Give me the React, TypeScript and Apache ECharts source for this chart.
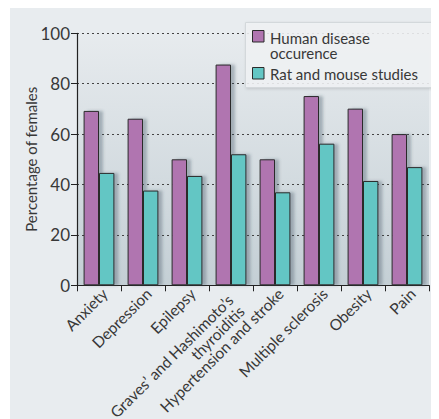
import React, { useEffect, useRef } from "react";
import * as echarts from "echarts";

const categories = [
  "Anxiety",
  "Depression",
  "Epilepsy",
  "Graves’ and Hashimoto’s\nthyroiditis",
  "Hypertension and stroke",
  "Multiple sclerosis",
  "Obesity",
  "Pain",
];
const humanName = "Human disease\noccurence";
const rodentName = "Rat and mouse studies";
const humanValues = [69.2, 66.1, 50, 87.6, 50, 75.1, 70.1, 60];
const rodentValues = [44.6, 37.6, 43.4, 52, 36.9, 56.2, 41.4, 46.9];
const yTicks = [0, 20, 40, 60, 80, 100];

const PURPLE = "#b075b0";
const TEAL = "#63c6c4";
const FONT = "Lato, 'Open Sans', sans-serif";
const TEXT = "#383838";

export default function App() {
  const ref = useRef<HTMLDivElement>(null);
  useEffect(() => {
    if (!ref.current) return;
    const chart = echarts.init(ref.current, null, { renderer: "svg" });
    const barStyle = (color: string) => ({
      color,
      borderColor: "#2b2b2b",
      borderWidth: 1,
      shadowColor: "rgba(60,80,95,0.35)",
      shadowBlur: 3,
      shadowOffsetX: 4,
      shadowOffsetY: 0,
    });
    const humanLines = humanName.split("\n");
    const legendTexts = humanLines.map((t, i) => ({
      type: "text",
      z: 21,
      x: 24.5,
      y: 15 + i * 15.5,
      style: {
        text: t,
        font: `15px ${FONT}`,
        fill: TEXT,
        verticalAlign: "middle",
      },
    }));
    chart.setOption({
      animation: false,
      textStyle: { fontFamily: FONT },
      graphic: [
        {
          type: "rect",
          z: -10,
          silent: true,
          shape: { x: 2, y: 0, width: 429, height: 411 },
          style: { fill: "#e8ecef" },
        },
        {
          type: "group",
          left: 237,
          top: 14,
          z: 20,
          children: [
            {
              type: "rect",
              z: 20,
              shape: { x: 0, y: 0, width: 190, height: 65 },
              style: {
                fill: "rgba(240,243,245,0.88)",
                stroke: "#d3d8db",
                lineWidth: 1,
                shadowColor: "rgba(0,0,0,0.15)",
                shadowBlur: 3,
                shadowOffsetX: 1,
                shadowOffsetY: 1,
              },
            },
            {
              type: "rect",
              z: 21,
              shape: { x: 7, y: 8, width: 11.5, height: 11.5 },
              style: { fill: PURPLE, stroke: "#2b2b2b", lineWidth: 1 },
            },
            ...legendTexts,
            {
              type: "rect",
              z: 21,
              shape: { x: 7, y: 45, width: 11.5, height: 11.5 },
              style: { fill: TEAL, stroke: "#2b2b2b", lineWidth: 1 },
            },
            {
              type: "text",
              z: 21,
              x: 24.5,
              y: 51,
              style: {
                text: rodentName,
                font: `15px ${FONT}`,
                fill: TEXT,
                verticalAlign: "middle",
              },
            },
          ],
        },
      ],
      grid: {
        left: 69,
        top: 25.3,
        right: 10,
        bottom: 133.7,
        outerBoundsMode: "none",
        containLabel: false,
        show: true,
        borderWidth: 0,
        backgroundColor: new echarts.graphic.LinearGradient(0, 0, 0, 1, [
          { offset: 0, color: "#e7ebee" },
          { offset: 1, color: "#c4cfd5" },
        ]),
      },
      xAxis: {
        type: "category",
        data: categories,
        axisLine: { show: true, lineStyle: { color: "#222", width: 1.2 } },
        axisTick: { show: true, length: 6, lineStyle: { color: "#222" } },
        axisLabel: {
          rotate: 45,
          interval: 0,
          margin: 0,
          verticalAlign: "top",
          fontSize: 15.5,
          lineHeight: 16,
          color: TEXT,
          fontFamily: FONT,
          formatter: (v: string) => {
            const parts = v.split("\n");
            if (parts.length === 1) return v;
            return `{g|${parts[0]}}\n{g|${parts[1]}}`;
          },
          rich: {
            g: { fontSize: 15.5, color: TEXT, fontFamily: FONT, lineHeight: 16, padding: [0, 9, 0, 0] },
          },
        },
      },
      yAxis: {
        type: "value",
        min: 0,
        max: 100,
        interval: 20,
        name: "Percentage of females",
        nameLocation: "middle",
        nameRotate: 90,
        nameGap: 39,
        nameMoveOverlap: false,
        nameTextStyle: { fontSize: 15, color: TEXT, fontFamily: FONT },
        axisLine: { show: true, lineStyle: { color: "#222", width: 1.2 } },
        axisTick: { show: true, length: 6, lineStyle: { color: "#222" } },
        axisLabel: {
          fontSize: 17,
          color: TEXT,
          fontFamily: FONT,
          margin: 7,
          formatter: (v: number) => (yTicks.includes(v) ? String(v) : ""),
        },
        splitLine: {
          show: true,
          lineStyle: { color: "#444", type: [2, 3], width: 1 },
        },
      },
      series: [
        {
          name: humanName,
          type: "bar",
          data: humanValues,
          barGap: "0%",
          barCategoryGap: "30%",
          itemStyle: barStyle(PURPLE),
        },
        {
          name: rodentName,
          type: "bar",
          data: rodentValues,
          barGap: "0%",
          barCategoryGap: "30%",
          itemStyle: barStyle(TEAL),
        },
      ],
    });
    return () => chart.dispose();
  }, []);
  return <div ref={ref} style={{ width: 431, height: 411 }} />;
}
